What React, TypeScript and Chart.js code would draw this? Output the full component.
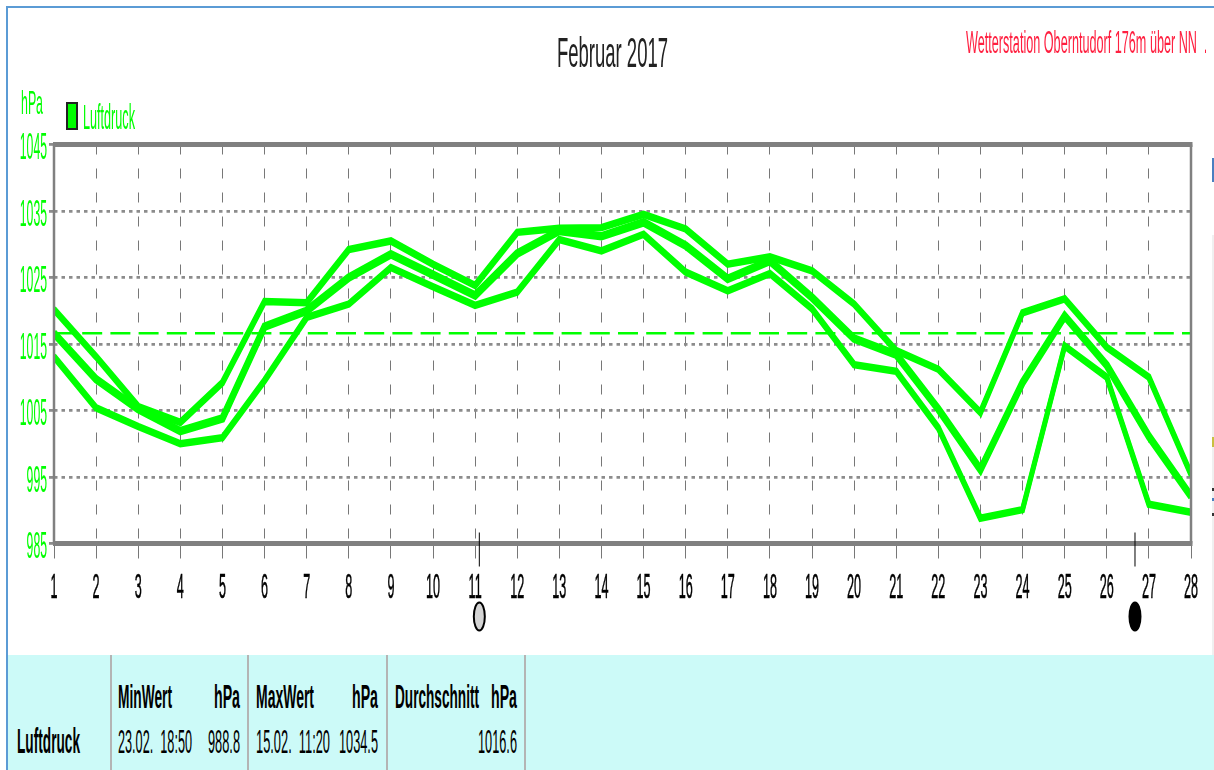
import React, { useEffect, useRef } from "react";
import { Chart, registerables } from "chart.js";

Chart.register(...registerables);

const days = [1,2,3,4,5,6,7,8,9,10,11,12,13,14,15,16,17,18,19,20,21,22,23,24,25,26,27,28];
const maxValues = [1020.2,1013.1,1005.6,1003.2,1009.2,1021.4,1021.2,1029.2,1030.5,1027,1023.8,1031.8,1032.4,1032.5,1034.5,1032.3,1027,1028.1,1026,1021,1014,1011.2,1004.7,1019.7,1021.8,1014.5,1010,995.4];
const meanValues = [1016.6,1009.7,1005.2,1001.9,1003.8,1017.6,1020,1025,1028.5,1025.4,1022.3,1028.6,1032,1031.2,1033.3,1029.8,1024.8,1027.5,1022,1015.8,1013.4,1005.2,996.1,1009.2,1019.2,1011.8,1001.1,992.1];
const minValues = [1013.1,1005.4,1002.6,1000,1000.9,1009.5,1019,1021,1026.5,1023.6,1020.8,1022.8,1030.7,1029,1031.5,1025.8,1023,1025.6,1020.3,1011.9,1010.9,1002.4,988.8,990.1,1014.7,1010,990.9,989.7];
const average = 1016.6;
const yTicks = [985,995,1005,1015,1025,1035,1045];
const moons = [
  { day: 11.1, fill: "#d4d4d4" },
  { day: 26.67, fill: "#000000" },
];
const FONT = "'Liberation Sans',Arial,sans-serif";
const GREEN = "#00ff00";
const GRAY = "#808080";
const PEN_OFFSET = 1.5;

const measurer = typeof document !== "undefined" ? document.createElement("canvas").getContext("2d")! : null;
function naturalWidth(s: string, size: number, weight: string) {
  measurer!.font = `${weight} ${size}px ${FONT}`;
  return measurer!.measureText(s).width;
}

const drawing = {
  id: "drawing",
  afterDatasetDraw(chart: any, args: any) {
    if (args.index === 0) return;
    const { ctx, chartArea: a } = chart;
    const line = chart.getDatasetMeta(args.index).dataset;
    ctx.save();
    ctx.beginPath();
    ctx.rect(a.left - 1, a.top, a.right - a.left + 2, a.bottom - a.top);
    ctx.clip();
    for (const dy of [-PEN_OFFSET, PEN_OFFSET]) {
      ctx.save();
      ctx.translate(0, dy);
      line.draw(ctx, a);
      ctx.restore();
    }
    ctx.restore();
  },
  afterDraw(chart: any) {
    const { ctx, chartArea: a, scales } = chart;
    ctx.save();
    ctx.strokeStyle = GRAY;
    ctx.lineWidth = 5;
    ctx.beginPath();
    ctx.moveTo(a.left - 1, a.top); ctx.lineTo(a.right + 1.5, a.top);
    ctx.moveTo(a.left - 1, a.bottom); ctx.lineTo(a.right + 1.5, a.bottom);
    ctx.stroke();
    ctx.lineWidth = 2.5;
    ctx.beginPath();
    ctx.moveTo(a.left, a.top); ctx.lineTo(a.left, a.bottom);
    ctx.moveTo(a.right, a.top); ctx.lineTo(a.right, a.bottom);
    ctx.stroke();

    // tall, narrow tick labels
    ctx.textBaseline = "alphabetic";
    ctx.font = `35px ${FONT}`;
    ctx.fillStyle = "#000";
    ctx.strokeStyle = "#000";
    ctx.lineWidth = 0.6;
    ctx.textAlign = "center";
    for (const t of scales.x.ticks) {
      const x = scales.x.getPixelForValue(t.value);
      ctx.save(); ctx.translate(x, 598); ctx.scale(0.36, 1);
      ctx.fillText(String(t.value), 0, 0);
      ctx.strokeText(String(t.value), 0, 0);
      ctx.restore();
    }
    ctx.font = `36px ${FONT}`;
    ctx.fillStyle = GREEN;
    ctx.textAlign = "right";
    for (const t of scales.y.ticks) {
      const y = scales.y.getPixelForValue(t.value);
      ctx.save(); ctx.translate(47, y + 14.5); ctx.scale(0.34, 1);
      ctx.fillText(String(t.value), 0, 0);
      ctx.restore();
    }

    for (const m of moons) {
      const x = scales.x.getPixelForValue(m.day);
      ctx.strokeStyle = "#000"; ctx.lineWidth = 1;
      ctx.beginPath(); ctx.moveTo(x, a.bottom - 11); ctx.lineTo(x, a.bottom + 23); ctx.stroke();
      ctx.fillStyle = m.fill; ctx.lineWidth = 2;
      ctx.beginPath(); ctx.ellipse(x, a.bottom + 73, 5.5, 14, 0, 0, Math.PI * 2); ctx.fill(); ctx.stroke();
    }
    ctx.restore();
  },
};

function Txt({ s, x, w, base, size, color = "#000", bold = false }: { s: string; x: number; w: number; base: number; size: number; color?: string; bold?: boolean }) {
  const k = w / naturalWidth(s, size, bold ? "700" : "400");
  return (
    <div style={{ position: "absolute", left: x, top: base - 0.83 * size, fontFamily: FONT, fontSize: size, fontWeight: bold ? 700 : 400, lineHeight: 1, whiteSpace: "pre", color, transform: `scaleX(${k})`, transformOrigin: "left top" }}>{s}</div>
  );
}

export default function App() {
  const ref = useRef<HTMLCanvasElement>(null);
  useEffect(() => {
    document.body.style.margin = "0";
    const line = (data: number[], w: number) => ({ data, borderColor: GREEN, backgroundColor: GREEN, borderWidth: w, pointRadius: 0, tension: 0, clip: 0 });
    const chart = new Chart(ref.current!, {
      type: "line",
      data: {
        labels: days,
        datasets: [
          { ...line(days.map(() => average), 2.5), borderDash: [20, 8.2] },
          line(maxValues, 4.5),
          line(meanValues, 5.5),
          line(minValues, 4.5),
        ],
      },
      plugins: [drawing],
      options: {
        animation: false,
        responsive: false,
        layout: { padding: { left: 54, top: 144.5, right: 23, bottom: 226.5 } },
        plugins: { legend: { display: false }, tooltip: { enabled: false } },
        scales: {
          x: {
            type: "linear", min: 1, max: 28,
            afterBuildTicks: (s: any) => { s.ticks = days.map((value) => ({ value })); },
            afterFit: (s: any) => { s.height = 0; },
            grid: { color: "#777", lineWidth: 1, tickLength: 15, tickColor: "#777", tickBorderDash: [] },
            border: { dash: [10, 14], display: false },
            ticks: { display: false },
          },
          y: {
            min: 985, max: 1045,
            afterBuildTicks: (s: any) => { s.ticks = yTicks.map((value) => ({ value })); },
            afterFit: (s: any) => { s.width = 0; },
            grid: { color: "#8c8c8c", lineWidth: 2.8, tickLength: 5, tickBorderDash: [] },
            border: { dash: [3.5, 4], display: false },
            ticks: { display: false },
          },
        },
      } as any,
    });
    return () => chart.destroy();
  }, []);

  return (
    <div style={{ position: "relative", width: 1214, height: 770, overflow: "hidden", background: "#fff" }}>
      <canvas ref={ref} width={1214} height={770} style={{ position: "absolute", left: 0, top: 0 }} />
      <div style={{ position: "absolute", left: 6, top: 6, width: 1208, height: 2, background: "#5b9bd5" }} />
      <div style={{ position: "absolute", left: 6, top: 6, width: 2, height: 764, background: "#5b9bd5" }} />
      <div style={{ position: "absolute", left: 8, top: 655, width: 1206, height: 115, background: "#ccfaf8" }} />
      {[110, 247, 386, 524].map((x) => <div key={x} style={{ position: "absolute", left: x, top: 655, width: 2, height: 115, background: "#b4b4b4" }} />)}
      <Txt s="Februar 2017" x={557} w={111} base={67} size={42} color="#222" />
      <Txt s="Wetterstation Oberntudorf 176m über NN" x={966} w={231} base={53} size={31} color="#ff2040" />
      <Txt s="." x={1204} w={3} base={53} size={31} color="#ff2040" />
      <Txt s="hPa" x={21} w={22} base={113} size={34} color={GREEN} />
      <div style={{ position: "absolute", left: 66, top: 102, width: 8, height: 24, background: GREEN, border: "2px solid #222" }} />
      <Txt s="Luftdruck" x={83} w={52} base={128} size={35} color={GREEN} />
      <Txt s="MinWert" x={118} w={54} base={707} size={34} bold />
      <Txt s="hPa" x={214} w={26} base={707} size={34} bold />
      <Txt s="MaxWert" x={256} w={58} base={707} size={34} bold />
      <Txt s="hPa" x={352} w={26} base={707} size={34} bold />
      <Txt s="Durchschnitt" x={395} w={84} base={707} size={34} bold />
      <Txt s="hPa" x={491} w={26} base={707} size={34} bold />
      <Txt s="Luftdruck" x={17} w={63} base={752} size={35} bold />
      <Txt s="23.02.  18:50" x={118} w={74} base={752} size={34} />
      <Txt s="988.8" x={208} w={32} base={752} size={34} />
      <Txt s="15.02.  11:20" x={256} w={74} base={752} size={34} />
      <Txt s="1034.5" x={339} w={39} base={752} size={34} />
      <Txt s="1016.6" x={478} w={39} base={752} size={34} />
      <div style={{ position: "absolute", left: 1212, top: 158, width: 2, height: 24, background: "#4a7fc0" }} />
      <div style={{ position: "absolute", left: 1212, top: 235, width: 2, height: 420, background: "#f0f0f0" }} />
      <div style={{ position: "absolute", left: 1212, top: 437, width: 2, height: 10, background: "#c8c040" }} />
      <div style={{ position: "absolute", left: 1212, top: 488, width: 2, height: 3, background: "#333" }} />
      <div style={{ position: "absolute", left: 1212, top: 498, width: 2, height: 3, background: "#4a7fc0" }} />
      <div style={{ position: "absolute", left: 1212, top: 513, width: 2, height: 3, background: "#333" }} />
    </div>
  );
}
